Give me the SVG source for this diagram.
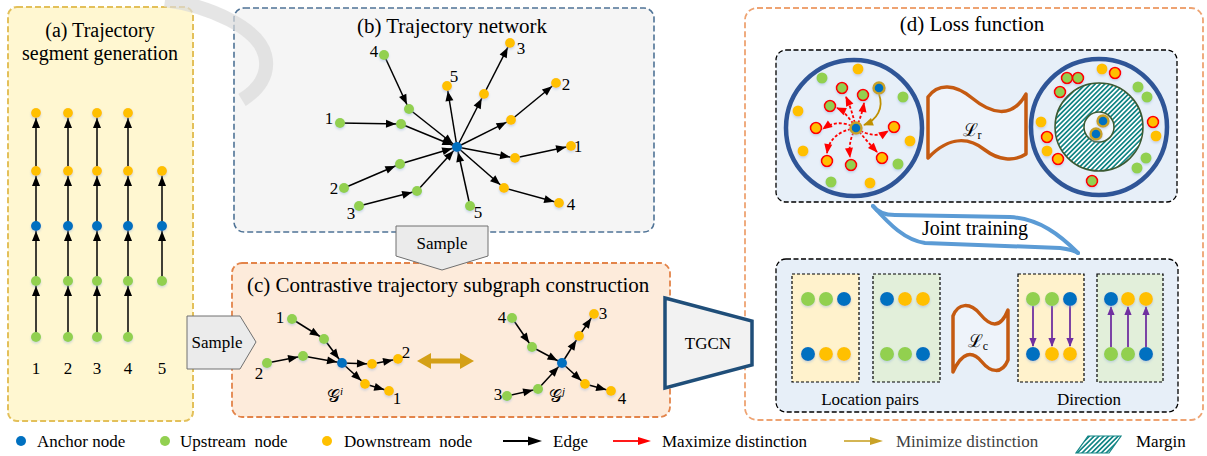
<svg xmlns="http://www.w3.org/2000/svg" width="1207" height="456" viewBox="0 0 1207 456">
<style>
.t{font-family:'Liberation Serif','Times New Roman',serif;fill:#000}
.b{fill:#0070c0}.g{fill:#92d050}.o{fill:#ffc000}
.e{stroke:#000;stroke-width:1.5;fill:none;marker-end:url(#ah)}
.rd{stroke:#ff0000;stroke-width:1.8;fill:none;stroke-dasharray:3,2;marker-end:url(#rh)}
.ring{fill:none;stroke:#2f5597;stroke-width:4.5}
.rb{stroke:#ff0000;stroke-width:1.6}
.gb{stroke:#c9a227;stroke-width:2.4}
.sub{stroke:#000;stroke-width:1.2;stroke-dasharray:3,2}
.pa{stroke:#7030a0;stroke-width:1.8;marker-end:url(#ph)}
.flag{fill:#eef3fa;stroke:#c55a11;stroke-width:3.5;stroke-linejoin:round}
.nd{filter:url(#sh)}
</style>
<defs>
<filter id="sh" x="-50%" y="-50%" width="200%" height="200%"><feDropShadow dx="0" dy="1.5" stdDeviation="1.2" flood-color="#8fb0d8" flood-opacity="0.45"/></filter>
<marker id="ah" viewBox="0 0 10 8" markerWidth="10" markerHeight="8" refX="15" refY="4" orient="auto" markerUnits="userSpaceOnUse" overflow="visible"><path d="M0,0 L10,4 L0,8 z" fill="#000"/></marker>
<marker id="rh" viewBox="0 0 10 8" markerWidth="10" markerHeight="8" refX="9" refY="4" orient="auto" markerUnits="userSpaceOnUse" overflow="visible"><path d="M0,0 L10,4 L0,8 z" fill="#ff0000"/></marker>
<marker id="gh" viewBox="0 0 10 8" markerWidth="10" markerHeight="8" refX="9" refY="4" orient="auto" markerUnits="userSpaceOnUse" overflow="visible"><path d="M0,0 L10,4 L0,8 z" fill="#bf9000"/></marker>
<marker id="ph" viewBox="0 0 10 8" markerWidth="9" markerHeight="8" refX="9" refY="4" orient="auto" markerUnits="userSpaceOnUse" overflow="visible"><path d="M0,0 L10,4 L0,8 z" fill="#7030a0"/></marker>
<pattern id="hatch" patternUnits="userSpaceOnUse" width="3.4" height="3.4" patternTransform="rotate(45)"><rect width="3.4" height="3.4" fill="#ffffff"/><rect width="1.7" height="3.4" fill="#138585"/></pattern>
</defs>

<!-- panels -->
<g id="panel-a">
<rect x="8" y="7" width="185" height="414" rx="9" fill="#fff7d1" stroke="#e3c05a" stroke-width="2" stroke-dasharray="6,3"/>
<text class="t" x="100" y="37" font-size="20" text-anchor="middle">(a) Trajectory</text>
<text class="t" x="100" y="60" font-size="20" text-anchor="middle">segment generation</text>
</g>
<g id="panel-b">
<rect x="234" y="8" width="420" height="224" rx="10" fill="#f5f5f5" stroke="#4f7396" stroke-width="1.6" stroke-dasharray="6,3"/>
<text class="t" x="452" y="33" font-size="21" text-anchor="middle">(b) Trajectory network</text>
</g>
<g id="panel-c">
<rect x="232" y="263" width="438" height="154" rx="10" fill="#fdebdb" stroke="#e3844a" stroke-width="1.8" stroke-dasharray="6,3"/>
<text class="t" x="247" y="292" font-size="21">(c) Contrastive trajectory subgraph construction</text>
</g>
<g id="panel-d">
<rect x="745" y="8" width="458" height="412" rx="12" fill="#ffffff" stroke="#eea372" stroke-width="1.8" stroke-dasharray="6,3"/>
<text class="t" x="972" y="31" font-size="21" text-anchor="middle">(d) Loss function</text>
<rect x="776" y="50" width="401" height="152" rx="10" fill="#e7eff8" stroke="#000" stroke-width="1.3" stroke-dasharray="5,2.5"/>
<circle class="ring" cx="854" cy="128" r="68"/>
<circle class="ring" cx="1099" cy="127" r="68"/>
<circle cx="1099" cy="127" r="44" fill="url(#hatch)" stroke="#3b5a33" stroke-width="1.5"/>
<circle cx="1099" cy="127" r="15" fill="#f3f7fb" stroke="#3b5a33" stroke-width="1.5"/>
<rect x="776" y="259" width="402" height="153" rx="10" fill="#e7eff8" stroke="#000" stroke-width="1.3" stroke-dasharray="5,2.5"/>
<rect class="sub" x="792" y="274" width="67" height="108" fill="#fff2cc"/>
<rect class="sub" x="873" y="274" width="67" height="108" fill="#e2efda"/>
<rect class="sub" x="1018" y="274" width="66" height="108" fill="#fff2cc"/>
<rect class="sub" x="1097" y="274" width="66" height="108" fill="#e2efda"/>
</g>

<!-- watermark arc -->
<path d="M165,0 C210,6 258,28 265,55 C270,75 258,90 242,100" fill="none" stroke="#dadada" stroke-width="14" opacity="0.7"/>

<!-- connectors -->
<g id="connectors">
<g id="conn-a">
<line class="e" x1="36" y1="337" x2="36" y2="281"/><line class="e" x1="36" y1="281" x2="36" y2="226"/><line class="e" x1="36" y1="226" x2="36" y2="171"/><line class="e" x1="36" y1="171" x2="36" y2="113"/>
<line class="e" x1="68" y1="337" x2="68" y2="281"/><line class="e" x1="68" y1="281" x2="68" y2="226"/><line class="e" x1="68" y1="226" x2="68" y2="171"/><line class="e" x1="68" y1="171" x2="68" y2="113"/>
<line class="e" x1="97" y1="337" x2="97" y2="281"/><line class="e" x1="97" y1="281" x2="97" y2="226"/><line class="e" x1="97" y1="226" x2="97" y2="171"/><line class="e" x1="97" y1="171" x2="97" y2="113"/>
<line class="e" x1="128" y1="337" x2="128" y2="281"/><line class="e" x1="128" y1="281" x2="128" y2="226"/><line class="e" x1="128" y1="226" x2="128" y2="171"/><line class="e" x1="128" y1="171" x2="128" y2="113"/>
<line class="e" x1="162" y1="281" x2="162" y2="226"/><line class="e" x1="162" y1="226" x2="162" y2="171"/>
</g>
<g id="conn-b">
<line class="e" x1="384" y1="55" x2="409" y2="109"/><line class="e" x1="409" y1="109" x2="457" y2="147"/>
<line class="e" x1="340" y1="123" x2="401" y2="124"/><line class="e" x1="401" y1="124" x2="457" y2="147"/>
<line class="e" x1="344" y1="188" x2="400" y2="164"/><line class="e" x1="400" y1="164" x2="457" y2="147"/>
<line class="e" x1="359" y1="206" x2="417" y2="191"/><line class="e" x1="417" y1="191" x2="457" y2="147"/>
<line class="e" x1="470" y1="206" x2="457" y2="147"/>
<line class="e" x1="457" y1="147" x2="447" y2="86"/>
<line class="e" x1="457" y1="147" x2="484" y2="94"/><line class="e" x1="484" y1="94" x2="510" y2="43"/>
<line class="e" x1="457" y1="147" x2="511" y2="120"/><line class="e" x1="511" y1="120" x2="556" y2="83"/>
<line class="e" x1="457" y1="147" x2="515" y2="158"/><line class="e" x1="515" y1="158" x2="571" y2="146"/>
<line class="e" x1="457" y1="147" x2="504" y2="188"/><line class="e" x1="504" y1="188" x2="559" y2="203"/>
</g>
<g id="conn-c">
<line class="e" x1="292" y1="319" x2="324" y2="339"/><line class="e" x1="324" y1="339" x2="342" y2="363"/>
<line class="e" x1="267" y1="363" x2="303" y2="356"/><line class="e" x1="303" y1="356" x2="342" y2="363"/>
<line class="e" x1="342" y1="363" x2="372" y2="364"/><line class="e" x1="372" y1="364" x2="398" y2="359"/>
<line class="e" x1="342" y1="363" x2="365" y2="384"/><line class="e" x1="365" y1="384" x2="389" y2="391"/>
<line class="e" x1="512" y1="318" x2="532" y2="347"/><line class="e" x1="532" y1="347" x2="562" y2="363"/>
<line class="e" x1="507" y1="396" x2="538" y2="389"/><line class="e" x1="538" y1="389" x2="562" y2="363"/>
<line class="e" x1="562" y1="363" x2="579" y2="336"/><line class="e" x1="579" y1="336" x2="594" y2="314"/>
<line class="e" x1="562" y1="363" x2="585" y2="384"/><line class="e" x1="585" y1="384" x2="611" y2="391"/>
<polygon points="417,361 431,353 431,358.5 460,358.5 460,353 474,361 460,369 460,363.5 431,363.5 431,369" fill="#d4a017"/>
</g>
<g id="conn-d">
<path class="rd" d="M856,128 Q852,110 846,97"/>
<path class="rd" d="M856,128 Q862,115 864,103"/>
<path class="rd" d="M856,128 Q846,112 837,108"/>
<path class="rd" d="M856,128 Q838,118 823,129"/>
<path class="rd" d="M856,128 Q830,132 827,153"/>
<path class="rd" d="M856,128 Q848,140 850,157"/>
<path class="rd" d="M856,128 Q866,140 877,152"/>
<path class="rd" d="M856,128 Q874,140 888,131"/>
<path d="M879,94 C884,108 877,120 864,125" fill="none" stroke="#bf9000" stroke-width="1.8" marker-end="url(#gh)"/>
<line class="pa" x1="1033" y1="306" x2="1033" y2="346"/><line class="pa" x1="1052" y1="306" x2="1052" y2="346"/><line class="pa" x1="1070" y1="306" x2="1070" y2="346"/>
<line class="pa" x1="1111" y1="347" x2="1111" y2="307"/><line class="pa" x1="1128" y1="347" x2="1128" y2="307"/><line class="pa" x1="1146" y1="347" x2="1146" y2="307"/>
</g>
<g id="joint">
<path d="M873,206 C878,213 885,215 895,215 L1010,217 C1040,219 1060,235 1078,253" fill="none" stroke="#5b9bd5" stroke-width="4" stroke-linecap="round"/>
<path d="M873,206 C890,225 905,240 925,243 L1060,248 C1068,249 1074,250 1078,253" fill="none" stroke="#5b9bd5" stroke-width="4" stroke-linecap="round"/>
</g>
</g>

<!-- sample arrows & TGCN -->
<g id="sample-a">
<polygon points="187,316 240,316 256,342 240,369 187,369" fill="#ebebeb" stroke="#707070" stroke-width="1"/>
<text class="t" x="217" y="348" font-size="17" text-anchor="middle">Sample</text>
</g>
<g id="sample-b">
<polygon points="396,226 488,226 488,256 442,270 396,256" fill="#ebebeb" stroke="#707070" stroke-width="1"/>
<text class="t" x="442" y="249" font-size="17" text-anchor="middle">Sample</text>
</g>
<g id="tgcn">
<polygon points="665,298 752,321 752,365 665,388" fill="#f2f2f2" stroke="#1f4e79" stroke-width="3.5" stroke-linejoin="miter"/>
<text class="t" x="708" y="349" font-size="17" text-anchor="middle">TGCN</text>
</g>

<!-- panel (a) nodes -->
<g id="nodes-a" class="nd">
<circle class="o" cx="36" cy="113" r="5"/><circle class="o" cx="36" cy="171" r="5"/><circle class="b" cx="36" cy="226" r="5"/><circle class="g" cx="36" cy="281" r="5"/><circle class="g" cx="36" cy="337" r="5"/>
<circle class="o" cx="68" cy="113" r="5"/><circle class="o" cx="68" cy="171" r="5"/><circle class="b" cx="68" cy="226" r="5"/><circle class="g" cx="68" cy="281" r="5"/><circle class="g" cx="68" cy="337" r="5"/>
<circle class="o" cx="97" cy="113" r="5"/><circle class="o" cx="97" cy="171" r="5"/><circle class="b" cx="97" cy="226" r="5"/><circle class="g" cx="97" cy="281" r="5"/><circle class="g" cx="97" cy="337" r="5"/>
<circle class="o" cx="128" cy="113" r="5"/><circle class="o" cx="128" cy="171" r="5"/><circle class="b" cx="128" cy="226" r="5"/><circle class="g" cx="128" cy="281" r="5"/><circle class="g" cx="128" cy="337" r="5"/>
<circle class="o" cx="162" cy="171" r="5"/><circle class="b" cx="162" cy="226" r="5"/><circle class="g" cx="162" cy="281" r="5"/>
</g>
<g id="labels-a" class="t" font-size="17" text-anchor="middle">
<text x="36" y="374">1</text><text x="68" y="374">2</text><text x="97" y="374">3</text><text x="128" y="374">4</text><text x="162" y="374">5</text>
</g>

<!-- panel (b) nodes -->
<g id="nodes-b" class="nd">
<circle class="g" cx="384" cy="55" r="5"/><circle class="g" cx="409" cy="109" r="5"/>
<circle class="g" cx="340" cy="123" r="5"/><circle class="g" cx="401" cy="124" r="5"/>
<circle class="g" cx="344" cy="188" r="5"/><circle class="g" cx="400" cy="164" r="5"/>
<circle class="g" cx="359" cy="206" r="5"/><circle class="g" cx="417" cy="191" r="5"/>
<circle class="g" cx="470" cy="206" r="5"/>
<circle class="o" cx="447" cy="86" r="5"/>
<circle class="o" cx="484" cy="94" r="5"/><circle class="o" cx="510" cy="43" r="5"/>
<circle class="o" cx="511" cy="120" r="5"/><circle class="o" cx="556" cy="83" r="5"/>
<circle class="o" cx="515" cy="158" r="5"/><circle class="o" cx="571" cy="146" r="5"/>
<circle class="o" cx="504" cy="188" r="5"/><circle class="o" cx="559" cy="203" r="5"/>
<circle class="b" cx="457" cy="147" r="5"/>
</g>
<g id="labels-b" class="t" font-size="17" text-anchor="middle">
<text x="374" y="57">4</text><text x="329" y="124">1</text><text x="334" y="194">2</text><text x="351" y="219">3</text><text x="478" y="218">5</text>
<text x="454" y="82">5</text><text x="521" y="54">3</text><text x="566" y="90">2</text><text x="578" y="152">1</text><text x="571" y="210">4</text>
</g>

<!-- panel (c) nodes -->
<g id="subgraph-i" class="nd">
<circle class="g" cx="292" cy="319" r="5"/><circle class="g" cx="324" cy="339" r="5"/>
<circle class="g" cx="267" cy="363" r="5"/><circle class="g" cx="303" cy="356" r="5"/>
<circle class="o" cx="372" cy="364" r="5"/><circle class="o" cx="398" cy="359" r="5"/>
<circle class="o" cx="365" cy="384" r="5"/><circle class="o" cx="389" cy="391" r="5"/>
<circle class="b" cx="342" cy="363" r="5"/>
</g>
<g id="subgraph-j" class="nd">
<circle class="g" cx="512" cy="318" r="5"/><circle class="g" cx="532" cy="347" r="5"/>
<circle class="g" cx="507" cy="396" r="5"/><circle class="g" cx="538" cy="389" r="5"/>
<circle class="o" cx="579" cy="336" r="5"/><circle class="o" cx="594" cy="314" r="5"/>
<circle class="o" cx="585" cy="384" r="5"/><circle class="o" cx="611" cy="391" r="5"/>
<circle class="b" cx="562" cy="363" r="5"/>
</g>
<g id="labels-c" class="t" font-size="17" text-anchor="middle">
<text x="280" y="323">1</text><text x="259" y="379">2</text><text x="406" y="358">2</text><text x="397" y="404">1</text>
<text x="502" y="323">4</text><text x="498" y="400">3</text><text x="603" y="319">3</text><text x="622" y="404">4</text>
<text x="335" y="402" font-size="18">𝒢<tspan font-size="11" dy="-7" font-style="italic">i</tspan></text>
<text x="557" y="402" font-size="18">𝒢<tspan font-size="11" dy="-7" font-style="italic">j</tspan></text>
</g>

<!-- panel (d) flags and texts -->
<g id="loss-r">
<path class="flag" d="M928,97 C938,83 955,84 972,98 C990,113 1012,120 1026,94 L1026,154 C1014,162 998,160 985,150 C970,138 950,135 928,158 Z"/>
<text class="t" x="972" y="136" font-size="18" text-anchor="middle">ℒ<tspan font-size="12" dy="3">r</tspan></text>
</g>
<g id="left-circle-nodes" class="nd">
<circle class="o" cx="858" cy="69" r="5.5"/><circle class="g" cx="822" cy="78" r="5.5"/><circle class="g" cx="903" cy="97" r="5.5"/>
<circle class="o" cx="798" cy="111" r="5.5"/><circle class="o" cx="910" cy="141" r="5.5"/><circle class="o" cx="803" cy="151" r="5.5"/>
<circle class="g" cx="898" cy="164" r="5.5"/><circle class="g" cx="831" cy="182" r="5.5"/><circle class="o" cx="870" cy="183" r="5.5"/>
<circle class="g rb" cx="842" cy="88" r="5.5"/><circle class="g rb" cx="863" cy="95" r="5.5"/><circle class="g rb" cx="830" cy="106" r="5.5"/><circle class="g rb" cx="851" cy="165" r="5.5"/>
<circle class="o rb" cx="816" cy="128" r="5.5"/><circle class="o rb" cx="894" cy="127" r="5.5"/><circle class="o rb" cx="827" cy="161" r="5.5"/><circle class="o rb" cx="882" cy="158" r="5.5"/>
<circle class="b gb" cx="879" cy="88" r="5.5"/>
<circle class="b gb" cx="856" cy="128" r="5.5"/>
</g>
<g id="right-circle-nodes" class="nd">
<circle class="o" cx="1102" cy="69" r="5.5"/><circle class="o" cx="1041" cy="122" r="5.5"/><circle class="o" cx="1156" cy="136" r="5.5"/><circle class="o" cx="1047" cy="151" r="5.5"/>
<circle class="g" cx="1138" cy="87" r="5.5"/><circle class="g" cx="1147" cy="97" r="5.5"/><circle class="g" cx="1146" cy="158" r="5.5"/><circle class="g" cx="1137" cy="168" r="5.5"/>
<circle class="g rb" cx="1067" cy="78" r="5.5"/><circle class="g rb" cx="1078" cy="78" r="5.5"/><circle class="g rb" cx="1060" cy="92" r="5.5"/><circle class="g rb" cx="1092" cy="181" r="5.5"/>
<circle class="o rb" cx="1115" cy="73" r="5.5"/><circle class="o rb" cx="1153" cy="122" r="5.5"/><circle class="o rb" cx="1047" cy="137" r="5.5"/><circle class="o rb" cx="1058" cy="159" r="5.5"/>
<circle class="b gb" cx="1103" cy="121" r="5.5"/><circle class="b gb" cx="1096" cy="134" r="5.5"/>
</g>
<g id="joint-label"><text class="t" x="975" y="235" font-size="20" text-anchor="middle">Joint training</text></g>

<g id="loss-c">
<path class="flag" d="M953,316 C958,303 970,302 980,314 C990,326 1000,330 1008,310 L1008,360 C1002,375 990,372 982,362 C972,350 962,352 953,372 Z"/>
<text class="t" x="978" y="347" font-size="18" text-anchor="middle">ℒ<tspan font-size="12" dy="3">c</tspan></text>
<text class="t" x="870" y="405" font-size="17" text-anchor="middle">Location pairs</text>
<text class="t" x="1089" y="405" font-size="17" text-anchor="middle">Direction</text>
</g>
<g id="pair-nodes" class="nd">
<circle class="g" cx="808" cy="299" r="7"/><circle class="g" cx="826" cy="299" r="7"/><circle class="b" cx="844" cy="299" r="7"/>
<circle class="b" cx="808" cy="354" r="7"/><circle class="o" cx="826" cy="354" r="7"/><circle class="o" cx="844" cy="354" r="7"/>
<circle class="b" cx="887" cy="299" r="7"/><circle class="o" cx="905" cy="299" r="7"/><circle class="o" cx="923" cy="299" r="7"/>
<circle class="g" cx="887" cy="354" r="7"/><circle class="g" cx="905" cy="354" r="7"/><circle class="b" cx="923" cy="354" r="7"/>
<circle class="g" cx="1033" cy="299" r="7"/><circle class="g" cx="1052" cy="299" r="7"/><circle class="b" cx="1070" cy="299" r="7"/>
<circle class="b" cx="1033" cy="354" r="7"/><circle class="o" cx="1052" cy="354" r="7"/><circle class="o" cx="1070" cy="354" r="7"/>
<circle class="b" cx="1111" cy="299" r="7"/><circle class="o" cx="1128" cy="299" r="7"/><circle class="o" cx="1146" cy="299" r="7"/>
<circle class="g" cx="1111" cy="354" r="7"/><circle class="g" cx="1128" cy="354" r="7"/><circle class="b" cx="1146" cy="354" r="7"/>
</g>

<!-- legend -->
<g id="legend" font-size="17">
<circle class="b" cx="21" cy="441" r="5"/><text class="t" x="37" y="447">Anchor node</text>
<circle class="g" cx="165" cy="441" r="5"/><text class="t" x="180" y="447" style="white-space:pre">Upstream  node</text>
<circle class="o" cx="327" cy="441" r="5"/><text class="t" x="344" y="447" style="white-space:pre">Downstream  node</text>
<line x1="503" y1="441" x2="530" y2="441" stroke="#000" stroke-width="2"/><polygon points="528,436.5 542,441 528,445.5" fill="#000"/>
<text class="t" x="553" y="447">Edge</text>
<line x1="613" y1="441" x2="640" y2="441" stroke="#ff0000" stroke-width="1.8"/><polygon points="638,437 651,441 638,445" fill="#ff0000"/>
<text class="t" x="662" y="447">Maximize distinction</text>
<line x1="844" y1="441" x2="872" y2="441" stroke="#c9a227" stroke-width="1.6"/><polygon points="870,437 883,441 870,445" fill="#c9a227"/>
<text class="t" x="896" y="447" style="fill:#404040">Minimize distinction</text>
<polygon points="1088,436 1121,436 1109,453 1076,453" fill="url(#hatch)" stroke="#138585" stroke-width="1.2"/>
<text class="t" x="1136" y="447">Margin</text>
</g>
</svg>
